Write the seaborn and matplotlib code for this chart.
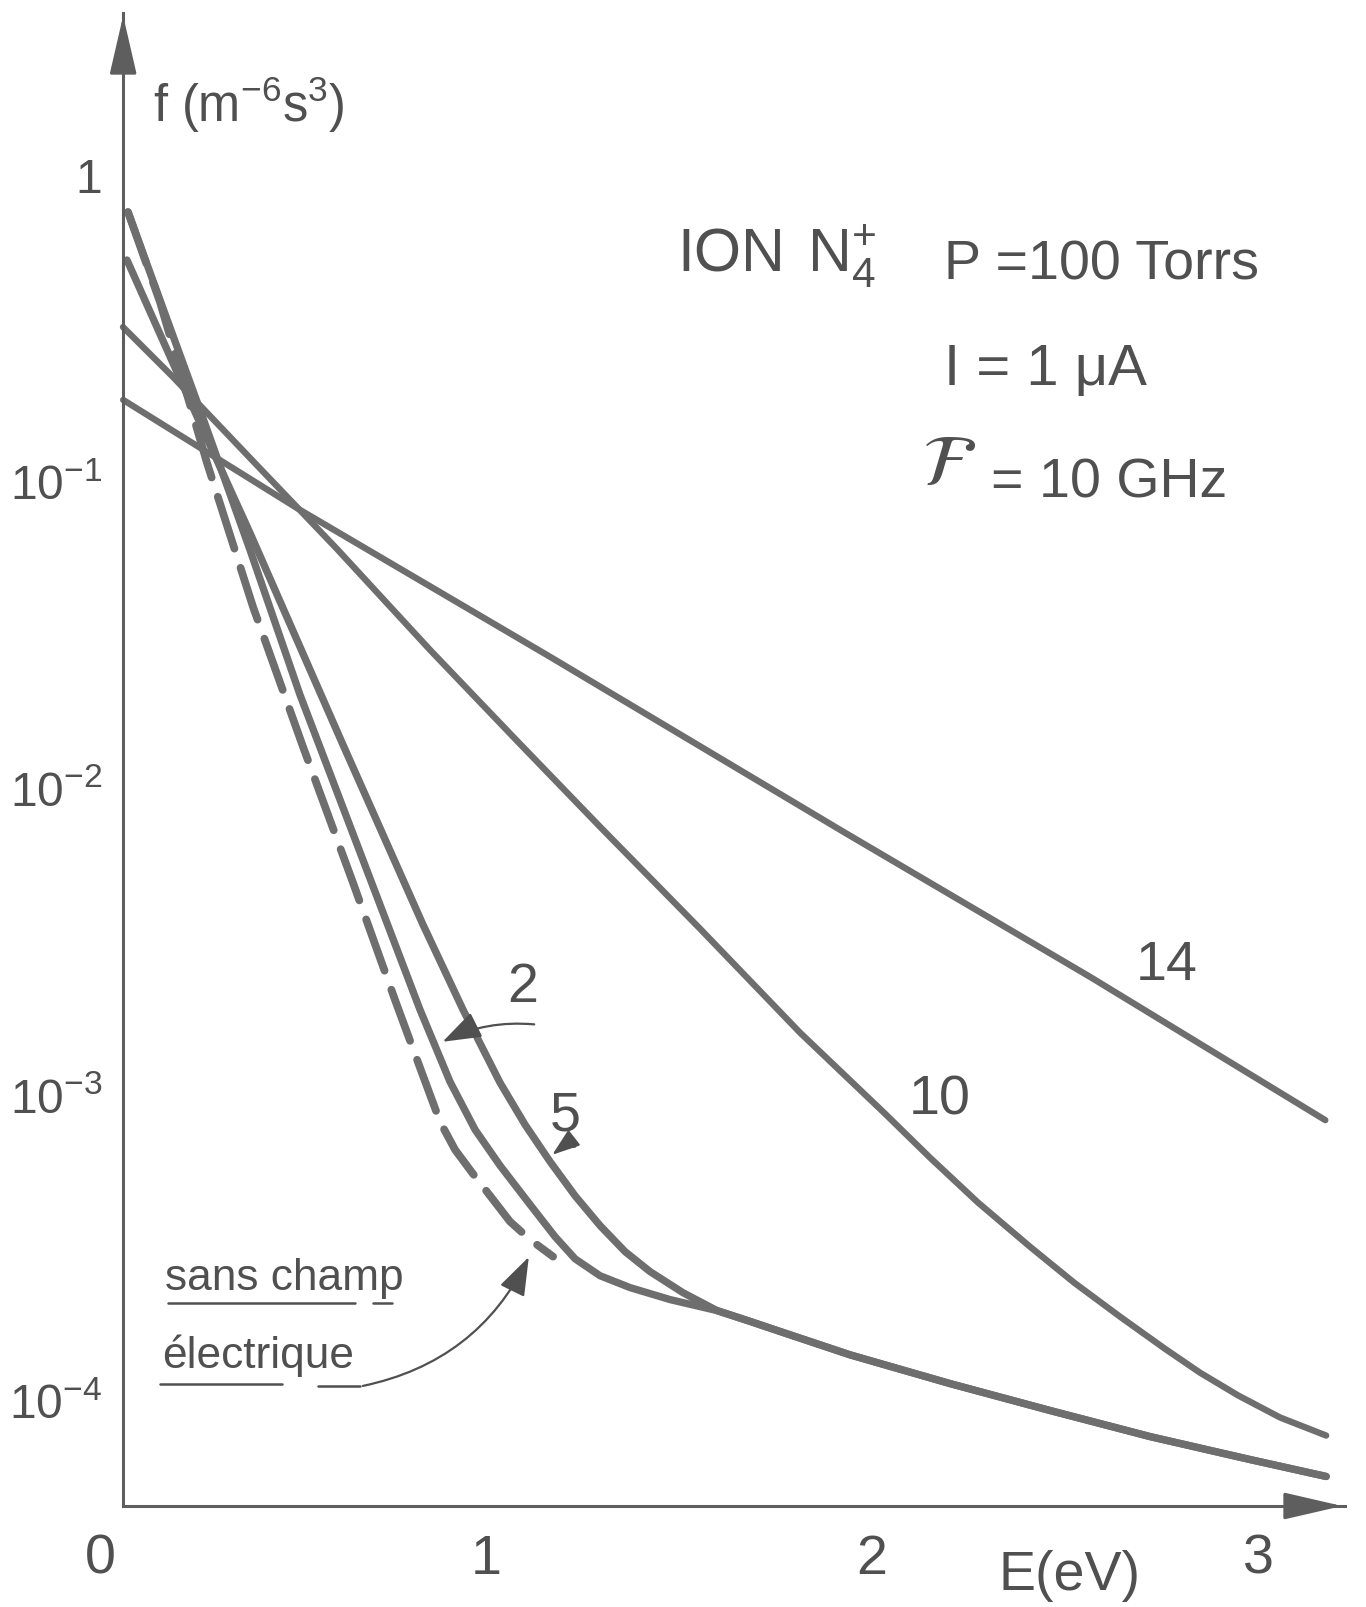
import matplotlib
matplotlib.use("Agg")
import matplotlib.pyplot as plt
import seaborn as sns
from matplotlib import font_manager
from matplotlib.lines import Line2D
from matplotlib.ticker import FixedLocator, NullFormatter

# ---------------- data ----------------
# energy E (eV) and distribution f (m^-6 s^3)
E_sans = [0.0725, 0.1554, 0.2772, 0.3964, 0.5259, 0.6554, 0.7668, 0.8290, 0.8808, 0.9197,
          0.9637, 1.0104, 1.0622, 1.1140, 1.1736]
f_sans = [0.935, 0.4756, 0.1420, 0.04817, 0.01684, 0.006066, 0.002464, 0.001512, 0.001008,
          0.000817, 0.000688, 0.000578, 0.000476, 0.000416, 0.000366]

E_tail = [1.5984, 1.6839, 1.7694, 1.9430, 2.2021, 2.4611, 2.7202, 2.9793, 3.1762]
f_tail = [0.000244, 0.000225, 0.000207, 0.000175, 0.000141, 0.0001152, 9.47e-05, 7.97e-05,
          7.02e-05]

E_2 = [0.0725, 0.1554, 0.2591, 0.3886, 0.5181, 0.6218, 0.7254, 0.8290, 0.9067, 0.9715,
       1.0363, 1.1140, 1.1788, 1.2306, 1.2953, 1.3731, 1.4767] + E_tail
f_2 = [0.935, 0.4828, 0.2114, 0.07387, 0.02488, 0.01131, 0.005142, 0.002337, 0.001361,
       0.000950, 0.000725, 0.000541, 0.000425, 0.000360, 0.000317, 0.000290,
       0.000265] + f_tail

E_5 = [0.0699, 0.2202, 0.3886, 0.6295, 0.8368, 0.9404, 1.0363, 1.1010, 1.1658, 1.2306,
       1.2953, 1.3601, 1.4249, 1.5104] + E_tail
f_5 = [0.652, 0.2456, 0.0839, 0.01709, 0.004424, 0.002337, 0.001351, 0.000986, 0.000747,
       0.000578, 0.000462, 0.000380, 0.000327, 0.000279] + f_tail

E_10 = [0.0596, 0.1891, 0.3886, 0.6140, 0.8549, 1.0803, 1.2953, 1.5544, 1.8135, 2.0311,
        2.1503, 2.2746, 2.4093, 2.5233, 2.6425, 2.7591, 2.8497, 2.9482, 3.0570, 3.1762]
f_10 = [0.3941, 0.2708, 0.1474, 0.07441, 0.03487, 0.01761, 0.009235, 0.004294, 0.001967,
        0.001078, 0.000769, 0.000549, 0.000394, 0.000301, 0.000233, 0.000183, 0.000153,
        0.000129, 0.0001093, 9.546e-05]

E_14 = [0.060, 0.518, 1.166, 1.930, 2.565, 3.174]
f_14 = [0.228, 0.0998, 0.0331, 0.00883, 0.00299, 0.00102]

y_ticks = [1e-4, 1e-3, 1e-2, 1e-1, 1]
y_tick_labels = [r"$\mathregular{10^{-4}}$", r"$\mathregular{10^{-3}}$",
                 r"$\mathregular{10^{-2}}$", r"$\mathregular{10^{-1}}$", "1"]
x_ticks = [0, 1, 2, 3]
x_tick_labels = ["0", "1", "2", "3"]
curve_labels = ["2", "5", "10", "14"]

# ---------------- style ----------------
sns.set_style("white")
names = {f.name for f in font_manager.fontManager.ttflist}
if "Liberation Sans Narrow" in names:
    FONT, K = "Liberation Sans Narrow", 1.12
else:
    FONT, K = "Liberation Sans", 0.91
plt.rcParams["font.family"] = [FONT, "DejaVu Sans"]
plt.rcParams["mathtext.fontset"] = "custom"
plt.rcParams["mathtext.rm"] = FONT
plt.rcParams["mathtext.it"] = FONT
plt.rcParams["mathtext.bf"] = FONT

LINE = "#6e6e6e"
AXC = "#5e5e5e"
TXT = "#505050"

W, H = 1366, 1607
fig = plt.figure(figsize=(W / 100, H / 100), dpi=100)
fig.patch.set_facecolor("white")
ax = fig.add_axes([100 / W, 1 - 1506 / H, 1245 / W, (1506 - 13) / H])
ax.set_facecolor("white")

# ---------------- curves ----------------
common = dict(ax=ax, sort=False, estimator=None, legend=False)
solid = dict(solid_capstyle="round", solid_joinstyle="round")
sns.lineplot(x=E_14, y=f_14, color=LINE, lw=4.6, **solid, **common)
sns.lineplot(x=E_10, y=f_10, color=LINE, lw=4.6, **solid, **common)
sns.lineplot(x=E_5, y=f_5, color=LINE, lw=5.3, **solid, **common)
sns.lineplot(x=E_2, y=f_2, color=LINE, lw=5.3, **solid, **common)
sns.lineplot(x=E_sans, y=f_sans, color=LINE, lw=5.6, linestyle=(0, (7.0, 2.6)),
             dash_capstyle="round", dash_joinstyle="round", **common)

# ---------------- axes ----------------
ax.set_yscale("log")
ax.set_xlim(0, 3.225)
ax.set_ylim(10 ** -4.25, 10 ** 0.62)
for s in ["top", "right"]:
    ax.spines[s].set_visible(False)
ax.spines["left"].set_position(("data", 0.06))
ax.spines["bottom"].set_bounds(0.06, 3.225)
for s in ["left", "bottom"]:
    ax.spines[s].set_color(AXC)
    ax.spines[s].set_linewidth(2.2)

ax.set_yticks(y_ticks, y_tick_labels, va="bottom")
minor = [m * 10.0 ** e for e in range(-5, 0) for m in range(2, 10)]
ax.yaxis.set_minor_locator(FixedLocator(minor))
ax.yaxis.set_minor_formatter(NullFormatter())
ax.tick_params(axis="y", which="major", direction="in", length=13, width=2,
               color=AXC, pad=15, labelsize=38 * K, labelcolor=TXT)
ax.tick_params(axis="y", which="minor", direction="in", length=7, width=1.8, color=AXC)
ax.set_xticks(x_ticks, x_tick_labels)
ax.tick_params(axis="x", which="major", direction="in", length=11, width=2,
               color=AXC, pad=20, labelsize=44 * K, labelcolor=TXT)
ax.xaxis.get_major_ticks()[0].tick1line.set_visible(False)
ax.set_xlabel("")
ax.set_ylabel("")

# axis arrows
ax.annotate("", xy=(3.225, 10 ** -4.25), xytext=(3.10, 10 ** -4.25),
            arrowprops=dict(arrowstyle="-|>,head_length=1.3,head_width=0.3",
                            color=AXC, lw=2.2, mutation_scale=28), annotation_clip=False)
ax.annotate("", xy=(0.06, 10 ** 0.62), xytext=(0.06, 10 ** 0.45),
            arrowprops=dict(arrowstyle="-|>,head_length=1.3,head_width=0.3",
                            color=AXC, lw=2.2, mutation_scale=28), annotation_clip=False)


def fx(px):
    return px / W


def fy(py):
    return 1 - py / H


# axis titles
fig.text(fx(153), fy(122), r"f (m$^{-6}$s$^{3}$)", fontsize=40 * K, color=TXT,
         ha="left", va="baseline")
fig.text(fx(999), fy(1590), "E(eV)", fontsize=44 * K, color=TXT, ha="left", va="baseline")

# parameter block
fig.text(fx(677), fy(272), "ION", fontsize=48 * K, color=TXT, ha="left", va="baseline")
fig.text(fx(807), fy(272), r"N$_{4}^{+}$", fontsize=48 * K, color=TXT, ha="left",
         va="baseline")
fig.text(fx(944), fy(280), "P =100 Torrs", fontsize=44 * K, color=TXT, ha="left",
         va="baseline")
fig.text(fx(944), fy(385), "I = 1 μA", fontsize=46 * K, color=TXT, ha="left",
         va="baseline")
fig.text(fx(922), fy(485), r"$\mathcal{F}$", fontsize=58 * K, color=TXT, ha="left",
         va="baseline", math_fontfamily="stix")
fig.text(fx(991), fy(497), "= 10 GHz", fontsize=44 * K, color=TXT, ha="left",
         va="baseline")

# curve labels
lab_pos = [(1.096, 2.76e-3), (1.205, 1.05e-3), (2.176, 1.18e-3), (2.764, 3.25e-3)]
for txt, (xx, yy) in zip(curve_labels, lab_pos):
    ax.text(xx, yy, txt, fontsize=44 * K, color=TXT, ha="center", va="center")

arrow_kw = dict(arrowstyle="-|>,head_length=1.0,head_width=0.35", color=TXT, lw=1.6)
ax.annotate("", xy=(0.881, 1.82e-3), xytext=(1.132, 2.09e-3),
            arrowprops=dict(connectionstyle="arc3,rad=0.15", mutation_scale=24, **arrow_kw))
ax.annotate("", xy=(1.166, 7.76e-4), xytext=(1.238, 8.36e-4),
            arrowprops=dict(connectionstyle="arc3,rad=0.2", mutation_scale=17, **arrow_kw))

# "sans champ électrique" note
fig.text(fx(165), fy(1290), "sans champ", fontsize=35 * K, color=TXT, ha="left",
         va="baseline")
fig.text(fx(162), fy(1368), "électrique", fontsize=35 * K, color=TXT, ha="left",
         va="baseline")
for (x1, x2, yy) in [(168, 355, 1303), (373, 392, 1303), (160, 282, 1384), (318, 360, 1386)]:
    fig.add_artist(Line2D([fx(x1), fx(x2)], [fy(yy), fy(yy)], transform=fig.transFigure,
                          color=TXT, lw=1.8))
ax.annotate("", xy=(1.114, 3.72e-4), xytext=(0.674, 1.38e-4),
            arrowprops=dict(connectionstyle="arc3,rad=0.25", mutation_scale=24, **arrow_kw))

fig.savefig("out.png", dpi=100, facecolor="white")
